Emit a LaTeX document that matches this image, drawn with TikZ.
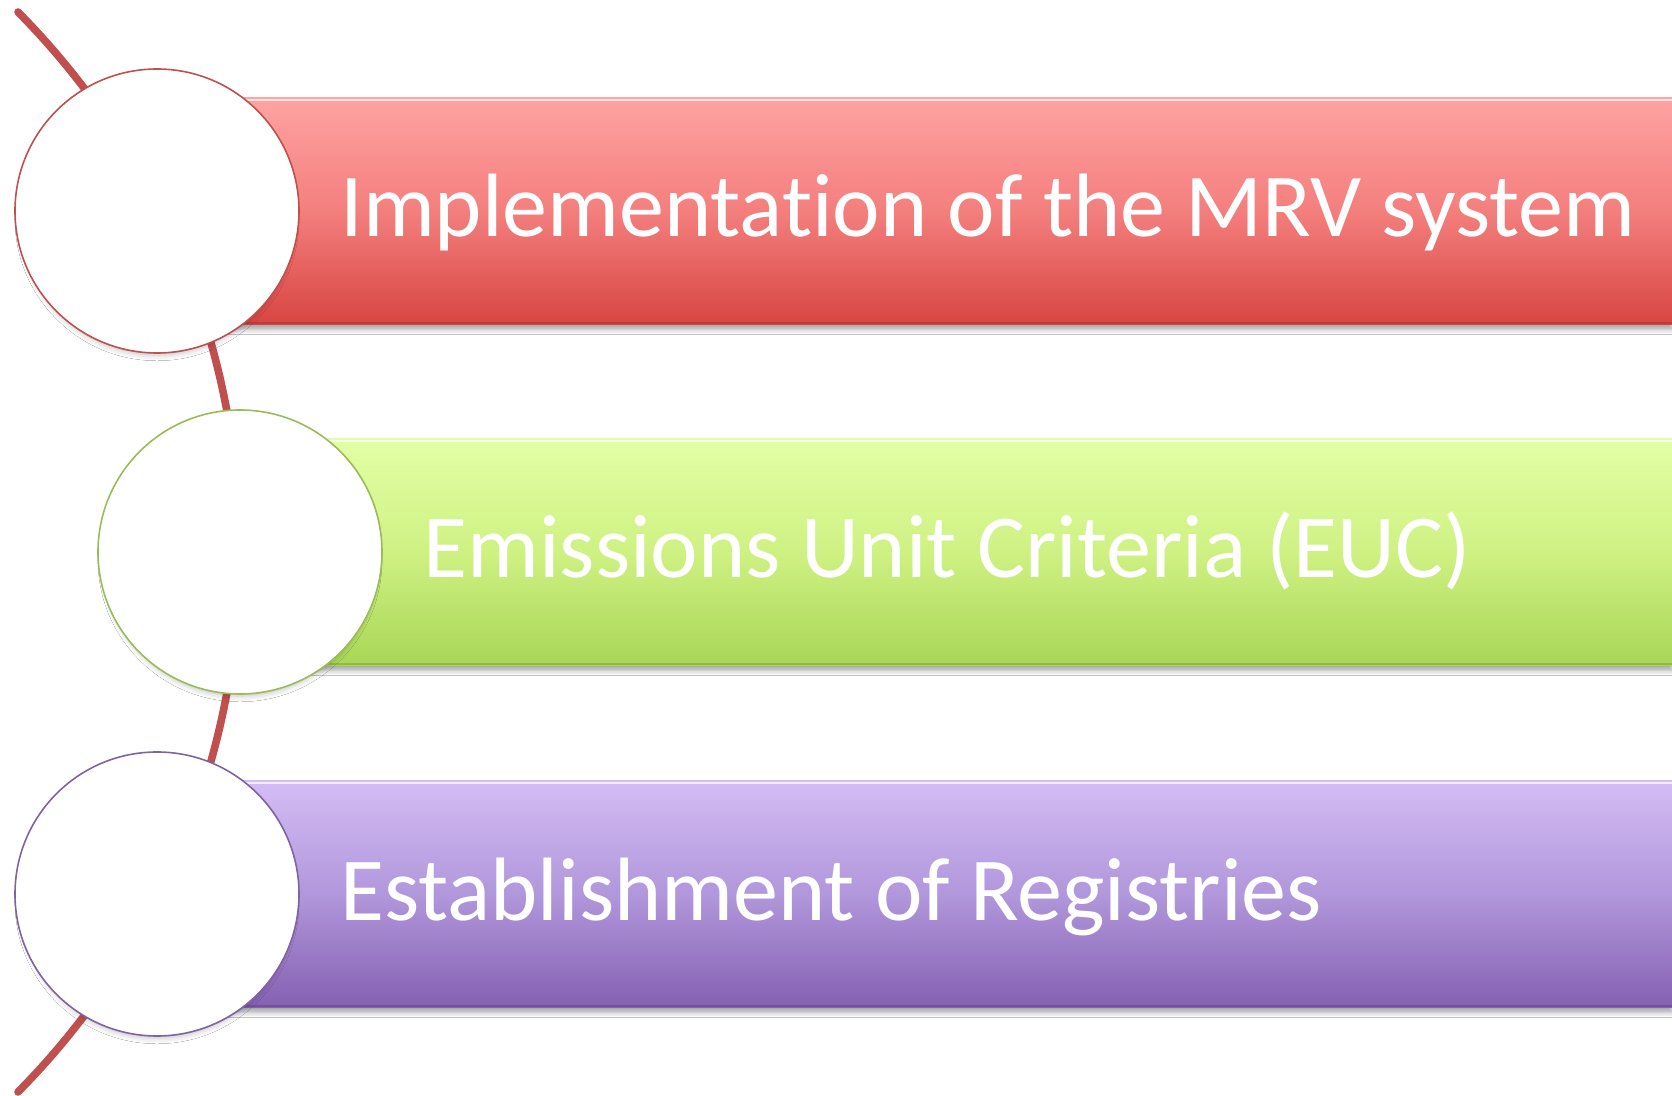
\documentclass[tikz,border=0pt]{standalone}
\usepackage{fontspec}
\setmainfont{Carlito}[Ligatures={NoCommon}]
\usetikzlibrary{shadows.blur}
\definecolor{arcred}{HTML}{C0504D}
\definecolor{redT}{HTML}{FFA3A3}
\definecolor{redM}{HTML}{F37F7D}
\definecolor{redB}{HTML}{D84542}
\definecolor{redD}{HTML}{9E3532}
\definecolor{grnE}{HTML}{9BBB59}
\definecolor{grnT}{HTML}{E3FFA6}
\definecolor{grnM}{HTML}{CFF183}
\definecolor{grnB}{HTML}{A8D656}
\definecolor{grnD}{HTML}{7A9E3A}
\definecolor{purE}{HTML}{8064A2}
\definecolor{purT}{HTML}{D4BDF5}
\definecolor{purM}{HTML}{B197DB}
\definecolor{purB}{HTML}{8560B2}
\definecolor{purD}{HTML}{5F4580}
\begin{document}
\begin{tikzpicture}[x=0.5pt,y=-0.5pt,
  barbox/.style={rectangle, inner sep=0pt, minimum height=113.5pt, anchor=west,
    blur shadow={shadow xshift=0pt, shadow yshift=-2.5pt, shadow blur radius=2.5pt, shadow opacity=35}},
  disc/.style={circle, inner sep=0pt, minimum size=142pt, fill=white, line width=0.8pt,
    blur shadow={shadow xshift=0pt, shadow yshift=-4pt, shadow scale=0.96, shadow blur radius=3pt, shadow opacity=25}},
  label/.style={anchor=base west, inner sep=0pt, text=white, font=\fontsize{45}{54}\selectfont},
  hilite/.style={white, opacity=0.7, line width=1.2pt},
  lowline/.style={opacity=0.5, line width=1.2pt}
]
\useasboundingbox (0,0) rectangle (1672,1096);
\fill[white] (0,0) rectangle (1672,1096);

% arc behind everything
\coordinate (arcTop) at (18,12);
\draw[arcred, line width=3.8pt, line cap=round] (arcTop) arc[start angle=-44.68, end angle=44.68, radius=768];

% bars
\node[barbox, minimum width=757.5pt, top color=redT, bottom color=redB, middle color=redM] (bar1) at (157,211) {};
\node[barbox, minimum width=716pt, top color=grnT, bottom color=grnB, middle color=grnM] (bar2) at (240,552) {};
\node[barbox, minimum width=757.5pt, top color=purT, bottom color=purB, middle color=purM] (bar3) at (157,894) {};

\foreach \b/\d in {bar1/redD, bar2/grnD, bar3/purD}{
  \draw[hilite] ([yshift=-1.5pt]\b.north west) -- ([yshift=-1.5pt]\b.north east);
  \draw[lowline, \d] ([yshift=1pt]\b.south west) -- ([yshift=1pt]\b.south east);
}

% circles
\node[disc, draw=arcred] (c1) at (157,211) {};
\node[disc, draw=grnE] (c2) at (240,552) {};
\node[disc, draw=purE] (c3) at (157,894) {};

% labels
\node[label] (t1) at (340,237) {Implementation of the MRV system};
\node[label] (t2) at (423,578) {Emissions Unit Criteria (EUC)};
\node[label] (t3) at (340,920) {Establishment of Registries};
\end{tikzpicture}
\end{document}
